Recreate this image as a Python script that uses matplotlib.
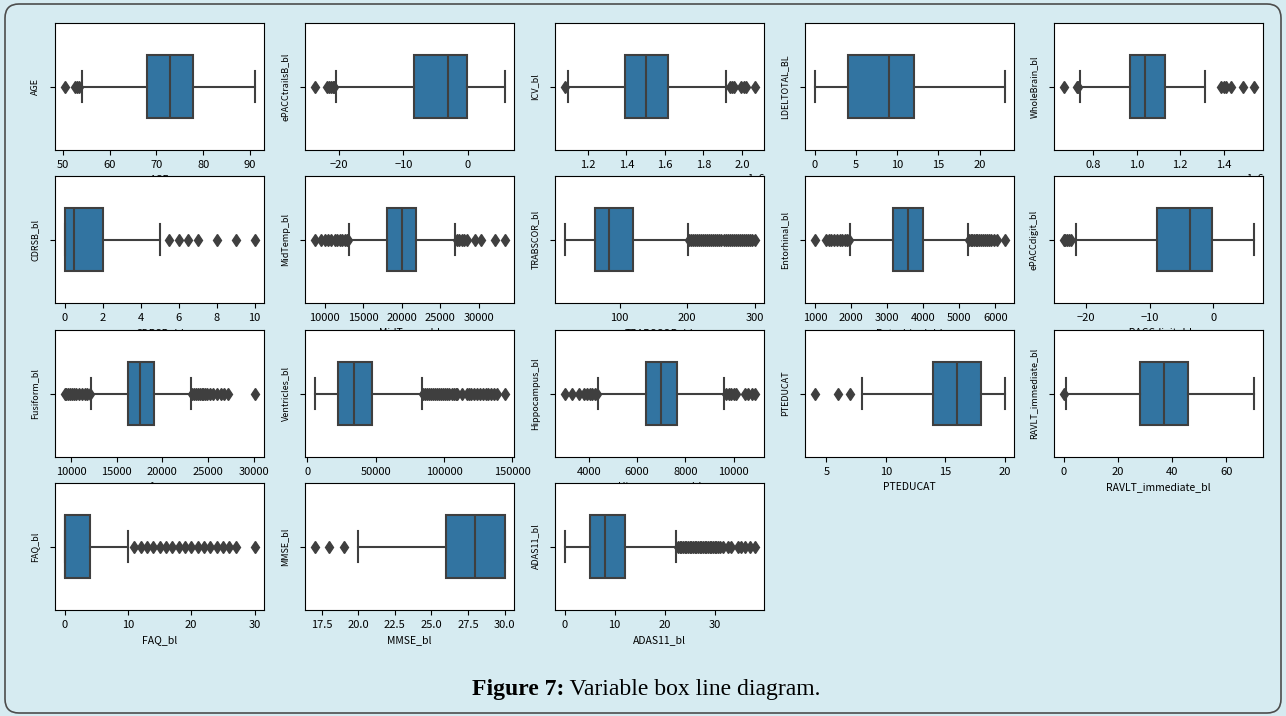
import matplotlib.pyplot as plt
from matplotlib.patches import FancyBboxPatch
from matplotlib.transforms import IdentityTransform

plt.rcParams['font.family'] = ['Noto Sans CJK SC', 'DejaVu Sans']

# one box per variable
variables = ['AGE', 'ePACCtrailsB_bl', 'ICV_bl', 'LDELTOTAL_BL', 'WholeBrain_bl',
             'CDRSB_bl', 'MidTemp_bl', 'TRABSCOR_bl', 'Entorhinal_bl', 'ePACCdigit_bl',
             'Fusiform_bl', 'Ventricles_bl', 'Hippocampus_bl', 'PTEDUCAT', 'RAVLT_immediate_bl',
             'FAQ_bl', 'MMSE_bl', 'ADAS11_bl']

whis_lo = [54.1, -20.4, 1.094e6, 0, 0.74e6,
           0, 13170, 18, 1960, -21.6,
           12190, 5340, 4400, 8, 1,
           0, 20, 0]
q1 = [68.0, -8.3, 1.395e6, 4, 0.97e6,
      0, 18170, 63, 3150, -8.8,
      16280, 22200, 6360, 14, 28,
      0, 26, 5]
medians = [72.8, -3.1, 1.504e6, 9, 1.04e6,
           0.5, 20000, 84, 3575, -3.7,
           17610, 33900, 7000, 16, 37,
           0, 28, 8]
q3 = [77.8, -0.1, 1.614e6, 12, 1.13e6,
      2, 21870, 119, 4000, -0.2,
      19060, 47360, 7660, 18, 46,
      4, 30, 12]
whis_hi = [91.0, 5.7, 1.917e6, 23, 1.314e6,
           5, 26870, 202, 5240, 6.3,
           23110, 83960, 9610, 20, 70,
           10, 30, 22.33]

fliers = [
    [50.3, 52.6, 53.0, 53.4],
    [-23.8, -21.9, -21.6, -21.3, -21.0, -20.7],
    [1.078e6, 1.936e6, 1.948e6, 1.957e6, 1.995e6, 2.009e6, 2.023e6, 2.066e6],
    [],
    [0.664e6, 0.725e6, 0.73e6, 1.388e6, 1.40e6, 1.41e6, 1.435e6, 1.49e6, 1.537e6],
    [5.5, 6, 6.5, 7, 8, 9, 10],
    [8700, 9565, 10000, 10435, 10870, 11300, 11600, 11960, 12300, 12600, 12900, 13100,
     27170, 27500, 27800, 28150, 28480, 29570, 30350, 32170, 33350],
    [203, 206, 209, 212, 215, 218, 221, 224, 227, 230, 233, 236, 239, 242, 245, 248,
     251, 254, 257, 260, 263, 266, 269, 272, 275, 278, 281, 284, 287, 290, 293, 296, 300],
    [985, 1300, 1380, 1450, 1520, 1600, 1680, 1750, 1820, 1890, 1930,
     5280, 5320, 5360, 5400, 5450, 5500, 5550, 5600, 5650, 5700, 5760, 5820, 5880, 5950,
     6050, 6250],
    [-23.5, -23.2, -22.9, -22.6, -22.3],
    [9300, 9500, 9700, 9900, 10100, 10300, 10550, 10900, 11200, 11500, 11800, 12100,
     23300, 23500, 23700, 23900, 24100, 24300, 24500, 24700, 24900, 25200,
     25600, 26000, 26400, 26800, 27200, 30090],
    [84500, 86000, 87500, 89000, 90500, 92000, 93500, 95000, 96500, 98000, 99500,
     101000, 102500, 104000, 105500, 107000, 108500, 109600, 113250,
     116900, 118500, 120000, 122000, 124200, 126600, 128500, 130500, 132500, 134500,
     136500, 138900, 144200],
    [3000, 3300, 3600, 3800, 3950, 4050, 4150, 4250, 4350,
     9700, 9800, 9900, 10000, 10100, 10450, 10600, 10750, 10860],
    [4, 6, 7],
    [0],
    [11, 12, 13, 14, 15, 16, 17, 18, 19, 20, 21, 22, 23, 24, 25, 26, 27, 30],
    [17, 18, 19],
    [22.67, 23, 23.33, 23.67, 24, 24.33, 24.67, 25, 25.33, 25.67, 26, 26.33, 26.67,
     27, 27.33, 27.67, 28, 28.33, 28.67, 29, 29.33, 29.67, 30, 30.33, 30.67, 31, 31.67,
     32.67, 33.33, 34.67, 35.33, 36, 37, 38],
]

box_color = '#3274a1'
gray = '#3f3f3f'
bg = '#d6ebf1'

fig = plt.figure(figsize=(12.86, 7.16), dpi=100, facecolor=bg)
FW, FH = 1286, 716
col_left = [55, 305, 555, 805, 1054]
row_top = [23, 176, 330, 483]
W, H = 209, 127

for i, name in enumerate(variables):
    r, c = divmod(i, 5)
    ax = fig.add_axes([col_left[c] / FW, 1 - (row_top[r] + H) / FH, W / FW, H / FH])
    stats = [dict(med=medians[i], q1=q1[i], q3=q3[i], whislo=whis_lo[i],
                  whishi=whis_hi[i], fliers=fliers[i], label='')]
    ax.bxp(stats, positions=[0], widths=0.5, capwidths=0.25, orientation='horizontal',
           patch_artist=True,
           boxprops=dict(facecolor=box_color, edgecolor=gray, linewidth=1.5),
           whiskerprops=dict(color=gray, linewidth=1.5),
           capprops=dict(color=gray, linewidth=1.5),
           medianprops=dict(color=gray, linewidth=1.5),
           flierprops=dict(marker='d', markersize=6, markerfacecolor=gray,
                           markeredgecolor=gray, linestyle='none'))
    ax.set_ylim(0.5, -0.5)
    ax.set_yticks([0])
    ax.set_yticklabels([''])
    ax.set_ylabel(name, fontsize=6.5)
    ax.set_xlabel(name, fontsize=7.5)
    ax.tick_params(axis='x', labelsize=8)
    ax.xaxis.get_offset_text().set_fontsize(7.5)

# caption with bold prefix
cap_y = 1 - 690 / FH
t1 = fig.text(0, cap_y, 'Figure 7:', fontsize=17, fontweight='bold',
              family='Liberation Serif', va='center')
t2 = fig.text(0, cap_y, ' Variable box line diagram.', fontsize=17,
              family='Liberation Serif', va='center')
fig.canvas.draw()
rend = fig.canvas.get_renderer()
w1 = t1.get_window_extent(rend).width
w2 = t2.get_window_extent(rend).width
x0 = 646 - (w1 + w2) / 2
t1.set_x(x0 / FW)
t2.set_x((x0 + w1) / FW)

border = FancyBboxPatch((5, 3), 1276, 709, boxstyle='round,pad=0,rounding_size=14',
                        transform=IdentityTransform(), fill=False,
                        edgecolor='#4d4d4d', linewidth=1.2)
fig.add_artist(border)

fig.savefig('out.png', dpi=100, facecolor=bg)
